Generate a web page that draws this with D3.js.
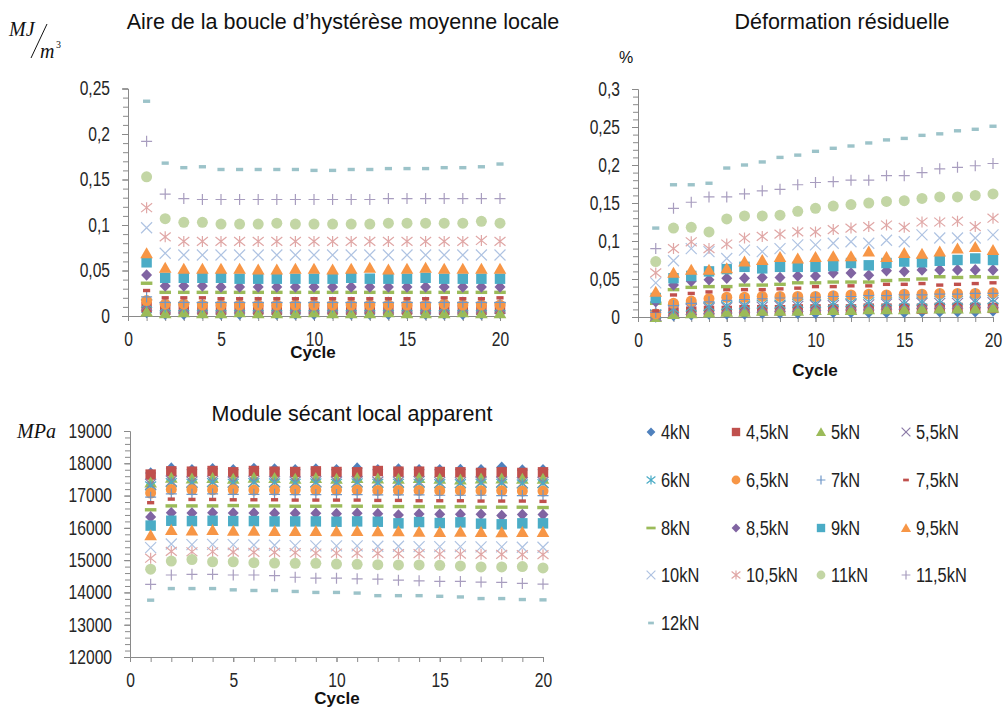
<!DOCTYPE html>
<html><head><meta charset="utf-8">
<script src="https://cdn.jsdelivr.net/npm/d3@7"></script>
<style>body{margin:0;background:#fff}svg{display:block}</style>
</head><body>
<svg id="c" width="1004" height="707"></svg>
<script>
// ---------------- DATA ----------------
const cycles = [1,2,3,4,5,6,7,8,9,10,11,12,13,14,15,16,17,18,19,20];
const seriesNames = ["4kN","4,5kN","5kN","5,5kN","6kN","6,5kN","7kN","7,5kN","8kN","8,5kN","9kN","9,5kN","10kN","10,5kN","11kN","11,5kN","12kN"];
const markerTypes = ["diamond","square","triangle","x","star","circle","plus","dash","longdash","diamond","square","triangle","x","star","circle","plus","dash"];
const seriesColors = ["#4F81BD","#C0504D","#9BBB59","#8C7BA8","#4BACC6","#F79646","#6F97C8","#C0504D","#9BBB59","#8064A2","#4BACC6","#F79646","#AFC3E2","#E0A7A6","#C3D6A5","#A89DBF","#9CC3C9"];

const cycleTicks = [0,5,10,15,20];
const aireTicks = [0,0.05,0.1,0.15,0.2,0.25];
const aireTickLabels = ["0","0,05","0,1","0,15","0,2","0,25"];
const deformTicks = [0,0.05,0.1,0.15,0.2,0.25,0.3];
const deformTickLabels = ["0","0,05","0,1","0,15","0,2","0,25","0,3"];
const moduleTicks = [12000,13000,14000,15000,16000,17000,18000,19000];
const moduleTickLabels = ["12000","13000","14000","15000","16000","17000","18000","19000"];

// Aire de la boucle d'hystérèse moyenne locale (MJ/m3)
const aire4   = [0.004,0.002,0.002,0.003,0.002,0.002,0.003,0.002,0.002,0.002,0.003,0.002,0.002,0.002,0.003,0.002,0.002,0.002,0.002,0.003];
const aire45  = [0.010,0.007,0.008,0.007,0.007,0.008,0.007,0.007,0.008,0.007,0.007,0.007,0.008,0.007,0.007,0.008,0.007,0.007,0.007,0.008];
const aire5   = [0.005,0.003,0.004,0.003,0.003,0.004,0.003,0.003,0.003,0.004,0.003,0.003,0.003,0.004,0.003,0.003,0.003,0.004,0.003,0.003];
const aire55  = [0.012,0.009,0.009,0.009,0.009,0.009,0.009,0.009,0.009,0.009,0.009,0.009,0.009,0.009,0.009,0.009,0.009,0.009,0.009,0.009];
const aire6   = [0.014,0.010,0.010,0.010,0.010,0.010,0.010,0.010,0.010,0.010,0.010,0.010,0.010,0.010,0.010,0.010,0.010,0.010,0.010,0.010];
const aire65  = [0.017,0.013,0.013,0.012,0.012,0.012,0.012,0.012,0.012,0.012,0.012,0.012,0.012,0.012,0.012,0.012,0.013,0.012,0.012,0.012];
const aire7   = [0.021,0.015,0.015,0.015,0.015,0.015,0.015,0.015,0.015,0.015,0.015,0.015,0.015,0.015,0.015,0.015,0.015,0.015,0.015,0.015];
const aire75  = [0.028,0.020,0.020,0.020,0.019,0.019,0.019,0.019,0.019,0.019,0.019,0.019,0.019,0.019,0.019,0.019,0.020,0.019,0.019,0.020];
const aire8   = [0.036,0.026,0.026,0.026,0.026,0.026,0.026,0.026,0.026,0.026,0.026,0.026,0.026,0.026,0.026,0.026,0.026,0.026,0.026,0.026];
const aire85  = [0.045,0.033,0.033,0.033,0.032,0.032,0.032,0.032,0.032,0.032,0.032,0.032,0.032,0.032,0.032,0.032,0.032,0.032,0.032,0.032];
const aire9   = [0.059,0.042,0.042,0.042,0.042,0.041,0.041,0.041,0.041,0.041,0.041,0.042,0.041,0.041,0.041,0.042,0.041,0.041,0.041,0.041];
const aire95  = [0.069,0.053,0.052,0.052,0.052,0.052,0.051,0.051,0.052,0.052,0.051,0.052,0.053,0.051,0.052,0.053,0.052,0.052,0.052,0.052];
const aire10  = [0.097,0.069,0.067,0.067,0.067,0.067,0.067,0.067,0.067,0.067,0.067,0.067,0.067,0.067,0.067,0.067,0.067,0.067,0.067,0.067];
const aire105 = [0.119,0.087,0.082,0.082,0.082,0.082,0.082,0.082,0.082,0.082,0.082,0.082,0.082,0.082,0.082,0.082,0.082,0.082,0.083,0.082];
const aire11  = [0.153,0.107,0.103,0.103,0.101,0.101,0.101,0.102,0.101,0.101,0.101,0.101,0.101,0.102,0.102,0.102,0.102,0.102,0.104,0.102];
const aire115 = [0.192,0.134,0.129,0.128,0.128,0.128,0.128,0.128,0.128,0.128,0.128,0.128,0.128,0.129,0.129,0.129,0.129,0.129,0.129,0.129];
const aire12  = [0.236,0.168,0.163,0.164,0.161,0.161,0.161,0.161,0.161,0.160,0.160,0.161,0.161,0.162,0.162,0.162,0.163,0.163,0.164,0.167];

// Déformation résiduelle (%)
const def4   = [0.000,0.002,0.003,0.004,0.004,0.004,0.005,0.005,0.005,0.005,0.006,0.006,0.006,0.006,0.006,0.007,0.007,0.007,0.007,0.008];
const def45  = [0.001,0.006,0.007,0.008,0.008,0.009,0.009,0.009,0.010,0.010,0.010,0.010,0.011,0.011,0.011,0.011,0.012,0.012,0.012,0.012];
const def5   = [0.000,0.004,0.005,0.006,0.007,0.007,0.008,0.008,0.008,0.009,0.009,0.009,0.010,0.010,0.010,0.011,0.011,0.011,0.011,0.012];
const def55  = [0.002,0.008,0.010,0.011,0.012,0.013,0.013,0.014,0.014,0.015,0.015,0.016,0.016,0.017,0.017,0.018,0.018,0.018,0.019,0.019];
const def6   = [0.004,0.011,0.013,0.014,0.015,0.016,0.017,0.017,0.018,0.018,0.019,0.019,0.020,0.020,0.021,0.021,0.022,0.022,0.022,0.023];
const def65  = [0.004,0.018,0.021,0.024,0.026,0.026,0.027,0.027,0.027,0.027,0.028,0.029,0.030,0.029,0.030,0.030,0.031,0.031,0.031,0.032];
const def7   = [0.006,0.015,0.018,0.020,0.022,0.023,0.024,0.025,0.025,0.026,0.027,0.027,0.028,0.028,0.029,0.029,0.030,0.030,0.031,0.031];
const def75  = [0.008,0.029,0.031,0.033,0.036,0.036,0.036,0.037,0.038,0.040,0.040,0.041,0.041,0.043,0.043,0.044,0.042,0.043,0.044,0.045];
const def8   = [0.018,0.036,0.039,0.040,0.040,0.042,0.042,0.043,0.045,0.045,0.046,0.046,0.046,0.048,0.049,0.050,0.053,0.052,0.053,0.052];
const def85  = [0.020,0.042,0.047,0.049,0.051,0.051,0.052,0.052,0.054,0.054,0.058,0.058,0.055,0.061,0.060,0.062,0.062,0.062,0.062,0.062];
const def9   = [0.025,0.051,0.054,0.060,0.063,0.066,0.064,0.066,0.066,0.066,0.067,0.071,0.068,0.071,0.073,0.072,0.074,0.075,0.077,0.075];
const def95  = [0.033,0.058,0.062,0.062,0.064,0.073,0.075,0.079,0.077,0.079,0.080,0.080,0.086,0.079,0.084,0.083,0.086,0.090,0.092,0.088];
const def10  = [0.045,0.074,0.090,0.086,0.077,0.088,0.086,0.090,0.095,0.095,0.097,0.099,0.097,0.101,0.099,0.108,0.104,0.104,0.104,0.108];
const def105 = [0.058,0.090,0.099,0.090,0.096,0.104,0.106,0.109,0.112,0.112,0.115,0.117,0.119,0.121,0.118,0.125,0.125,0.126,0.119,0.130];
const def11  = [0.073,0.117,0.118,0.112,0.129,0.133,0.133,0.134,0.139,0.143,0.146,0.148,0.150,0.152,0.153,0.156,0.158,0.158,0.160,0.162];
const def115 = [0.090,0.143,0.151,0.158,0.158,0.162,0.166,0.168,0.174,0.177,0.178,0.180,0.180,0.186,0.186,0.190,0.195,0.197,0.199,0.202];
const def12  = [0.117,0.174,0.174,0.176,0.196,0.200,0.204,0.210,0.213,0.218,0.222,0.225,0.229,0.233,0.235,0.239,0.241,0.245,0.247,0.251];

// Module sécant local apparent (MPa)
const mod4   = [17700,17850,17800,17830,17800,17840,17820,17800,17820,17800,17850,17800,17820,17800,17800,17810,17800,17880,17790,17800];
const mod45  = [17650,17750,17740,17760,17720,17760,17740,17730,17750,17730,17720,17760,17740,17740,17730,17720,17700,17720,17700,17720];
const mod5   = [17400,17550,17530,17540,17520,17550,17540,17520,17540,17520,17540,17530,17520,17540,17520,17500,17530,17530,17520,17520];
const mod55  = [17350,17450,17420,17440,17420,17440,17430,17420,17430,17420,17430,17420,17420,17430,17410,17400,17420,17420,17400,17410];
const mod6   = [17300,17400,17380,17400,17380,17400,17390,17380,17390,17380,17390,17380,17380,17380,17370,17370,17380,17380,17360,17370];
const mod65  = [17080,17190,17180,17180,17180,17170,17170,17170,17170,17170,17170,17160,17160,17160,17150,17150,17150,17150,17140,17140];
const mod7   = [16950,17050,17040,17050,17040,17040,17040,17030,17030,17030,17030,17020,17020,17020,17010,17010,17010,17000,17000,17000];
const mod75  = [16780,16890,16880,16880,16870,16870,16870,16860,16860,16860,16860,16850,16850,16840,16840,16840,16830,16830,16830,16820];
const mod8   = [16560,16680,16680,16680,16690,16680,16680,16670,16670,16680,16670,16670,16660,16660,16650,16660,16640,16640,16640,16630];
const mod85  = [16340,16470,16460,16470,16460,16460,16450,16450,16450,16440,16450,16440,16400,16430,16420,16420,16420,16380,16410,16410];
const mod9   = [16070,16220,16210,16220,16210,16210,16200,16200,16200,16190,16200,16190,16140,16180,16150,16170,16130,16110,16140,16140];
const mod95  = [15770,15930,15920,15930,15910,15910,15900,15900,15900,15890,15900,15890,15890,15880,15870,15880,15870,15860,15870,15870];
const mod10  = [15390,15500,15480,15490,15480,15470,15460,15450,15440,15440,15440,15430,15430,15420,15420,15420,15410,15410,15400,15400];
const mod105 = [15060,15270,15260,15260,15250,15240,15240,15230,15220,15220,15220,15210,15200,15200,15190,15190,15180,15180,15170,15170];
const mod11  = [14720,14970,15020,14950,14950,14920,14910,14900,14900,14880,14870,14860,14850,14850,14840,14820,14790,14790,14800,14760];
const mod115 = [14250,14540,14560,14560,14540,14540,14520,14470,14440,14440,14420,14410,14380,14360,14340,14340,14320,14310,14280,14260];
const mod12  = [13760,14120,14120,14120,14080,14060,14060,14030,14000,14000,13980,13900,13900,13900,13880,13860,13810,13810,13780,13770];

const aireSeries = [aire4,aire45,aire5,aire55,aire6,aire65,aire7,aire75,aire8,aire85,aire9,aire95,aire10,aire105,aire11,aire115,aire12];
const deformSeries = [def4,def45,def5,def55,def6,def65,def7,def75,def8,def85,def9,def95,def10,def105,def11,def115,def12];
const moduleSeries = [mod4,mod45,mod5,mod55,mod6,mod65,mod7,mod75,mod8,mod85,mod9,mod95,mod10,mod105,mod11,mod115,mod12];

// ---------------- DRAWING ----------------
const svg = d3.select("#c");
const SANS = "'Liberation Sans',Arial,sans-serif";
const SERIF = "'Liberation Serif','Times New Roman',serif";
const AXIS_COLOR = "#8a8a8a";

// condense text to mimic a narrow typeface
function condense(sel, f) {
  sel.each(function () {
    const w = this.getComputedTextLength();
    d3.select(this).attr("textLength", w * f).attr("lengthAdjust", "spacingAndGlyphs");
  });
}

function marker(g, type, color, x, y, k) {
  const s = 5.5 * k;
  switch (type) {
    case "diamond":
      g.append("path").attr("d", `M${x},${y-s*1.05}L${x+s},${y}L${x},${y+s*1.05}L${x-s},${y}Z`).attr("fill", color); break;
    case "square":
      g.append("rect").attr("x", x-s*0.95).attr("y", y-s*0.95).attr("width", s*1.9).attr("height", s*1.9).attr("fill", color); break;
    case "triangle":
      g.append("path").attr("d", `M${x},${y-s*1.1}L${x+s*1.15},${y+s*0.9}L${x-s*1.15},${y+s*0.9}Z`).attr("fill", color); break;
    case "circle":
      g.append("circle").attr("cx", x).attr("cy", y).attr("r", s).attr("fill", color); break;
    case "x":
      g.append("path").attr("d", `M${x-s},${y-s}L${x+s},${y+s}M${x-s},${y+s}L${x+s},${y-s}`).attr("stroke", color).attr("stroke-width", 1.2).attr("fill", "none"); break;
    case "star":
      g.append("path").attr("d", `M${x-s},${y-s*0.8}L${x+s},${y+s*0.8}M${x-s},${y+s*0.8}L${x+s},${y-s*0.8}M${x},${y-s}L${x},${y+s}`).attr("stroke", color).attr("stroke-width", 1.2).attr("fill", "none"); break;
    case "plus":
      g.append("path").attr("d", `M${x-s},${y}L${x+s},${y}M${x},${y-s}L${x},${y+s}`).attr("stroke", color).attr("stroke-width", 1.2).attr("fill", "none"); break;
    case "dash":
      g.append("rect").attr("x", x-s*0.65).attr("y", y-1.7*k).attr("width", s*1.3).attr("height", 3.4*k).attr("fill", color); break;
    case "longdash":
      g.append("rect").attr("x", x-s*1.05).attr("y", y-1.7*k).attr("width", s*2.1).attr("height", 3.4*k).attr("fill", color); break;
  }
}

function panel(cfg) {
  const x = d3.scaleLinear().domain([0, 20]).range(cfg.xr);
  const y = d3.scaleLinear().domain(cfg.yd).range(cfg.yr);
  const g = svg.append("g");

  const ym = g.append("g").attr("transform", `translate(${cfg.xr[0]},0)`)
    .call(d3.axisLeft(y).tickValues(y.ticks(cfg.minorY)).tickSize(5).tickFormat(""));
  ym.select(".domain").remove();
  ym.selectAll(".tick line").attr("stroke", AXIS_COLOR);
  const ya = g.append("g").attr("transform", `translate(${cfg.xr[0]},0)`)
    .call(d3.axisLeft(y).tickValues(cfg.yTicks).tickSize(6).tickPadding(12)
      .tickFormat((d, i) => cfg.yLabels[i]));
  ya.select(".domain").attr("stroke", AXIS_COLOR);
  ya.selectAll(".tick line").attr("stroke", AXIS_COLOR);
  ya.selectAll("text").attr("font-family", SANS).attr("font-size", 20).attr("fill", "#262626").call(condense, 0.78);

  const xm = g.append("g").attr("transform", `translate(0,${cfg.yr[0]})`)
    .call(d3.axisBottom(x).tickValues(cycles).tickSize(5).tickFormat(""));
  xm.select(".domain").remove();
  xm.selectAll(".tick line").attr("stroke", AXIS_COLOR);
  const xa = g.append("g").attr("transform", `translate(0,${cfg.yr[0]})`)
    .call(d3.axisBottom(x).tickValues(cycleTicks).tickSize(5).tickPadding(11));
  xa.select(".domain").attr("stroke", AXIS_COLOR);
  xa.selectAll(".tick line").attr("stroke", AXIS_COLOR);
  xa.selectAll("text").attr("font-family", SANS).attr("font-size", 20).attr("fill", "#262626").call(condense, 0.78);

  const pg = g.append("g");
  cfg.series.forEach((vals, si) => {
    const sg = pg.append("g");
    vals.forEach((v, i) => marker(sg, markerTypes[si], seriesColors[si], x(cycles[i]), y(v), 1));
  });

  g.append("text").attr("x", cfg.title[1]).attr("y", cfg.title[2]).attr("text-anchor", "middle")
    .attr("font-family", SANS).attr("font-size", 21.5).attr("fill", "#111").text(cfg.title[0]);
  g.append("text").attr("x", cfg.cycle[0]).attr("y", cfg.cycle[1]).attr("text-anchor", "middle")
    .attr("font-family", SANS).attr("font-weight", "bold").attr("font-size", 17).attr("fill", "#111").text("Cycle");
}

panel({
  xr: [128, 500], yd: [0, 0.25], yr: [316, 88.5], minorY: 25,
  yTicks: aireTicks, yLabels: aireTickLabels, series: aireSeries,
  title: ["Aire de la boucle d\u2019hystérèse moyenne locale", 343, 29], cycle: [313, 358]
});
panel({
  xr: [638, 993], yd: [0, 0.3], yr: [317, 89], minorY: 30,
  yTicks: deformTicks, yLabels: deformTickLabels, series: deformSeries,
  title: ["Déformation résiduelle", 842, 29], cycle: [815, 376]
});
panel({
  xr: [130, 543], yd: [12000, 19000], yr: [657, 431], minorY: 35,
  yTicks: moduleTicks, yLabels: moduleTickLabels, series: moduleSeries,
  title: ["Module sécant local apparent", 352, 421], cycle: [337, 704]
});

// unit labels
svg.append("text").attr("x", 9).attr("y", 36).attr("font-family", SERIF).attr("font-style", "italic")
  .attr("font-size", 20).attr("fill", "#111").text("MJ");
svg.append("line").attr("x1", 31).attr("y1", 58).attr("x2", 47).attr("y2", 24).attr("stroke", "#111").attr("stroke-width", 1);
svg.append("text").attr("x", 40).attr("y", 58).attr("font-family", SERIF).attr("font-style", "italic")
  .attr("font-size", 20).attr("fill", "#111").text("m");
svg.append("text").attr("x", 56).attr("y", 48).attr("font-family", SERIF)
  .attr("font-size", 10).attr("fill", "#111").text("3");
svg.append("text").attr("x", 626).attr("y", 63).attr("text-anchor", "middle").attr("font-family", SANS)
  .attr("font-size", 16).attr("fill", "#111").text("%");
svg.append("text").attr("x", 17).attr("y", 438).attr("font-family", SERIF).attr("font-style", "italic")
  .attr("font-size", 20).attr("fill", "#111").text("MPa");

// legend
const legendColX = [651, 736, 821, 906];
const legendRowY = [432, 480, 528, 575, 623];
const lg = svg.append("g");
seriesNames.forEach((name, i) => {
  const cx = legendColX[i % 4], cy = legendRowY[Math.floor(i / 4)];
  marker(lg, markerTypes[i], seriesColors[i], cx, cy, 0.8);
  lg.append("text").attr("x", cx + 10).attr("y", cy + 7).attr("font-family", SANS)
    .attr("font-size", 20).attr("fill", "#222").text(name).call(condense, 0.82);
});
</script>
</body></html>
